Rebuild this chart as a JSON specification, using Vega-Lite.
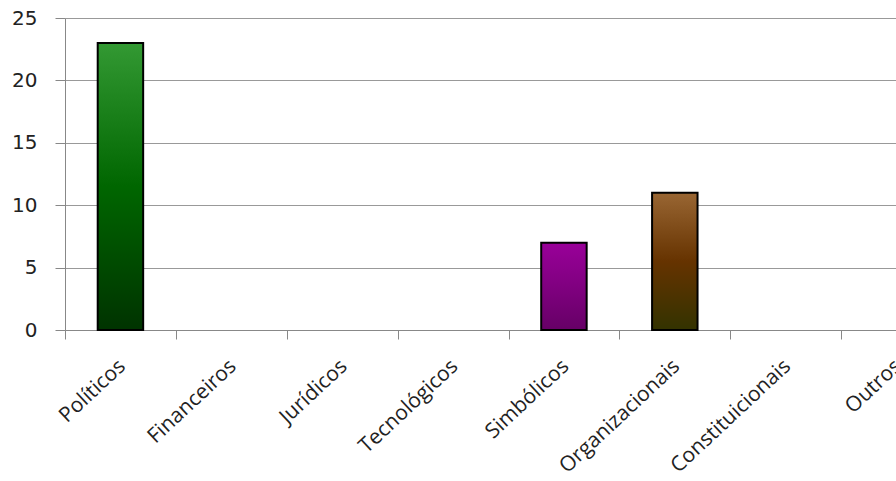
{
  "$schema": "https://vega.github.io/schema/vega-lite/v6.json",
  "autosize": "none",
  "width": 831,
  "height": 312,
  "padding": {"left": 65, "top": 18, "right": 0, "bottom": 151},
  "background": "white",
  "data": {"values": [
    {"categoria": "Políticos", "valor": 23},
    {"categoria": "Financeiros", "valor": 0},
    {"categoria": "Jurídicos", "valor": 0},
    {"categoria": "Tecnológicos", "valor": 0},
    {"categoria": "Simbólicos", "valor": 7},
    {"categoria": "Organizacionais", "valor": 11},
    {"categoria": "Constituicionais", "valor": 0},
    {"categoria": "Outros", "valor": 0}
  ]},
  "encoding": {
    "x": {
      "field": "categoria", "type": "nominal", "sort": null,
      "scale": {
        "domain": ["Políticos", "Financeiros", "Jurídicos", "Tecnológicos", "Simbólicos", "Organizacionais", "Constituicionais", "Outros"],
        "range": [0, 887],
        "paddingInner": 0, "paddingOuter": 0
      },
      "axis": {
        "title": null, "tickBand": "extent", "labelAngle": -43, "labelAlign": "right", "labelBaseline": "top",
        "domainColor": "#888", "tickColor": "#888", "tickSize": 9, "labelPadding": 16, "labelOffset": -6,
        "labelFont": "Open Sans", "labelFontSize": 21, "labelColor": "#222", "labelOverlap": false, "labelBound": false
      }
    },
    "y": {
      "field": "valor", "type": "quantitative",
      "scale": {"domain": [0, 25], "nice": false},
      "axis": {
        "title": null, "values": [0, 5, 10, 15, 20, 25], "grid": true, "gridColor": "#999",
        "domainColor": "#888", "tickColor": "#888", "tickSize": 10, "labelPadding": 18,
        "labelFont": "DejaVu Sans", "labelFontSize": 20, "labelColor": "#222"
      }
    }
  },
  "layer": [
    {
      "transform": [{"filter": "datum.categoria === 'Políticos'"}],
      "mark": {"type": "bar", "stroke": "black", "strokeWidth": 2, "width": {"band": 0.41},
        "fill": {"gradient": "linear", "x1": 0, "y1": 0, "x2": 0, "y2": 1,
          "stops": [{"offset": 0, "color": "#339933"}, {"offset": 0.5, "color": "#006600"}, {"offset": 1, "color": "#003300"}]}}
    },
    {
      "transform": [{"filter": "datum.categoria === 'Simbólicos'"}],
      "mark": {"type": "bar", "stroke": "black", "strokeWidth": 2, "width": {"band": 0.41},
        "fill": {"gradient": "linear", "x1": 0, "y1": 0, "x2": 0, "y2": 1,
          "stops": [{"offset": 0, "color": "#990099"}, {"offset": 0.5, "color": "#800080"}, {"offset": 1, "color": "#660066"}]}}
    },
    {
      "transform": [{"filter": "datum.categoria === 'Organizacionais'"}],
      "mark": {"type": "bar", "stroke": "black", "strokeWidth": 2, "width": {"band": 0.41},
        "fill": {"gradient": "linear", "x1": 0, "y1": 0, "x2": 0, "y2": 1,
          "stops": [{"offset": 0, "color": "#996633"}, {"offset": 0.5, "color": "#663300"}, {"offset": 1, "color": "#333300"}]}}
    }
  ],
  "config": {"view": {"stroke": null}}
}
